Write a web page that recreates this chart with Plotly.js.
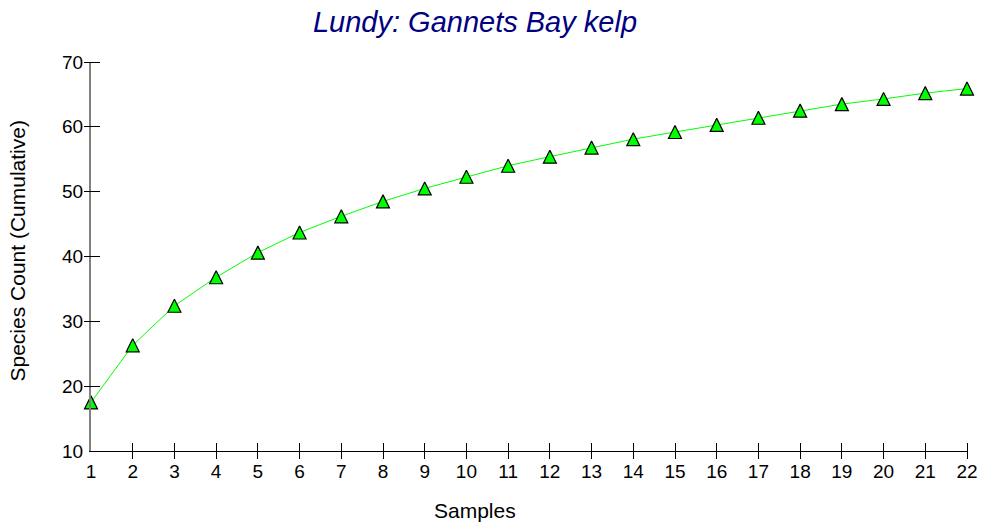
<!DOCTYPE html>
<html>
<head>
<meta charset="utf-8">
<script src="https://cdn.plot.ly/plotly-3.0.1.min.js"></script>
<style>html,body{margin:0;padding:0;background:#fff;}#chart{width:982px;height:526px;}</style>
</head>
<body>
<div id="chart"></div>
<script>
const chartTitle = "Lundy: Gannets Bay kelp";
const xTitle = "Samples";
const yTitle = "Species Count (Cumulative)";
const samples = [1,2,3,4,5,6,7,8,9,10,11,12,13,14,15,16,17,18,19,20,21,22];
const speciesCount = [17.5,26.3,32.4,36.8,40.6,43.7,46.2,48.5,50.5,52.3,54.0,55.4,56.8,58.1,59.2,60.3,61.4,62.5,63.5,64.3,65.2,65.9];
const xTickVals = [1,2,3,4,5,6,7,8,9,10,11,12,13,14,15,16,17,18,19,20,21,22];
const yTickVals = [10,20,30,40,50,60,70];
const xMarkTicks = xTickVals.slice(1);
const yMarkTicks = yTickVals.slice(1);

const font = "Liberation Sans, Arial, sans-serif";

const traces = [
  {
    x: samples, y: speciesCount, type: 'scatter', mode: 'lines',
    line: {color: '#00ff00', width: 1},
    showlegend: false, hoverinfo: 'skip'
  },
  {
    x: samples, y: speciesCount, type: 'scatter', mode: 'markers', cliponaxis: false,
    marker: {symbol: 'arrow-down', angle: 180, size: 13, standoff: 6.5, color: '#00ff00', line: {color: '#000000', width: 1.2}},
    showlegend: false, hoverinfo: 'x+y'
  },
  {x: [], y: [], type: 'scatter', mode: 'markers', xaxis: 'x2', yaxis: 'y2', showlegend: false, hoverinfo: 'skip'}
];

const layout = {
  width: 982, height: 526,
  margin: {l: 91, r: 15, t: 62, b: 75},
  paper_bgcolor: '#ffffff', plot_bgcolor: '#ffffff',
  showlegend: false,
  title: {text: chartTitle, xref: 'container', yref: 'container', x: 0.4837, xanchor: 'center', y: 0.958, yanchor: 'middle',
          font: {family: font, size: 29, color: '#000080', style: 'italic'}},
  xaxis: {range: [1, 22], tickmode: 'array', tickvals: xTickVals, ticks: 'outside', ticklen: 3, tickcolor: 'rgba(0,0,0,0)',
          showgrid: false, zeroline: false, showline: true, linecolor: '#000000', linewidth: 1,
          tickfont: {family: font, size: 19, color: '#000000'}, fixedrange: true},
  yaxis: {range: [10, 70], tickmode: 'array', tickvals: yTickVals, ticks: 'outside', ticklen: 2, tickcolor: 'rgba(0,0,0,0)',
          showgrid: false, zeroline: false, showline: true, linecolor: '#808080', linewidth: 2,
          tickfont: {family: font, size: 19, color: '#000000'}, fixedrange: true},
  xaxis2: {range: [1, 22], overlaying: 'x', anchor: 'free', position: 9/389, side: 'bottom', tickmode: 'array', tickvals: xMarkTicks,
           ticks: 'outside', ticklen: 16, tickwidth: 1, tickcolor: '#000000', showticklabels: false, showline: false,
           showgrid: false, zeroline: false, fixedrange: true},
  yaxis2: {range: [10, 70], overlaying: 'y', anchor: 'free', position: 9/876, side: 'left', tickmode: 'array', tickvals: yMarkTicks,
           ticks: 'outside', ticklen: 16, tickwidth: 1, tickcolor: '#000000', showticklabels: false, showline: false,
           showgrid: false, zeroline: false, fixedrange: true},
  annotations: [
    {text: xTitle, xref: 'paper', yref: 'paper', x: (475-91)/876, y: (451-510)/389, xanchor: 'center', yanchor: 'middle',
     showarrow: false, font: {family: font, size: 21, color: '#000000'}},
    {text: yTitle, xref: 'paper', yref: 'paper', x: (17-91)/876, y: (451-251.5)/389, xanchor: 'center', yanchor: 'middle',
     textangle: -90, showarrow: false, font: {family: font, size: 21, color: '#000000'}}
  ]
};

Plotly.newPlot('chart', traces, layout, {displayModeBar: false, staticPlot: true});
</script>
</body>
</html>
